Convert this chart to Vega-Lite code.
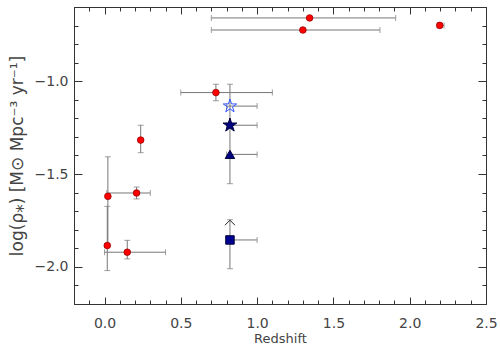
{
  "$schema": "https://vega.github.io/schema/vega-lite/v6.json",
  "autosize": "none",
  "width": 412,
  "height": 297,
  "padding": {"left": 74, "top": 7, "right": 14, "bottom": 47},
  "background": "white",
  "config": {
    "view": {"stroke": "#333", "strokeWidth": 1},
    "axis": {"domain": false, "grid": false, "ticks": true, "tickColor": "#333", "tickOpacity": 1, "tickWidth": 1, "labelFont": "DejaVu Sans", "labelFontSize": 14, "labelColor": "#444", "titleFont": "DejaVu Sans", "titleFontWeight": "normal", "titleFontSize": 13, "titleColor": "#444", "labelFlush": false, "labelOverlap": false}
  },
  "data": {"values": [
    {"kind": "red", "z": 1.344, "y": -0.659, "zlo": 0.70, "zhi": 1.908},
    {"kind": "red", "z": 1.30, "y": -0.724, "zlo": 0.70, "zhi": 1.805},
    {"kind": "red", "z": 2.197, "y": -0.699, "zlo": 2.18, "zhi": 2.225},
    {"kind": "red", "z": 0.73, "y": -1.061, "zlo": 0.50, "zhi": 1.10, "ylo": -1.105, "yhi": -1.016},
    {"kind": "red", "z": 0.237, "y": -1.317, "ylo": -1.385, "yhi": -1.237},
    {"kind": "red", "z": 0.022, "y": -1.62, "ylo": -1.885, "yhi": -1.407},
    {"kind": "red", "z": 0.21, "y": -1.602, "zlo": 0.015, "zhi": 0.30, "ylo": -1.634, "yhi": -1.57},
    {"kind": "red", "z": 0.018, "y": -1.885, "ylo": -2.02, "yhi": -1.674},
    {"kind": "red", "z": 0.149, "y": -1.921, "zlo": 0.0, "zhi": 0.40, "ylo": -1.957, "yhi": -1.857},
    {"kind": "openstar", "z": 0.822, "y": -1.134, "zlo": 0.80, "zhi": 1.0},
    {"kind": "star", "z": 0.822, "y": -1.237, "zlo": 0.80, "zhi": 1.0},
    {"kind": "triangle", "z": 0.822, "y": -1.394, "zlo": 0.80, "zhi": 1.0, "ylo": -1.552, "yhi": -1.016},
    {"kind": "square", "z": 0.822, "y": -1.855, "zlo": 0.80, "zhi": 1.0, "ylo": -2.01, "yhi": -1.746, "arrow": -1.762}
  ]},
  "resolve": {"axis": {"x": "independent", "y": "independent"}},
  "layer": [
    {
      "transform": [{"filter": "isValid(datum.zlo)"}],
      "mark": {"type": "errorbar", "ticks": {"size": 6, "color": "#777"}, "rule": {"color": "#777", "strokeWidth": 1}},
      "encoding": {
        "x": {"field": "zlo", "type": "quantitative", "scale": {"domain": [-0.2, 2.5], "nice": false, "zero": false},
          "axis": {"orient": "bottom", "title": "Redshift", "titlePadding": 2,
            "values": [0, 0.5, 1, 1.5, 2, 2.5], "format": ".1f", "offset": -7, "tickSize": 7, "labelPadding": 12}},
        "x2": {"field": "zhi"},
        "y": {"field": "y", "type": "quantitative", "scale": {"domain": [-2.2, -0.6], "nice": false, "zero": false},
          "axis": {"orient": "left", "title": "log(ρ⁎) [M⊙ Mpc⁻³ yr⁻¹]", "titleFontSize": 17, "titlePadding": 8,
            "values": [-2, -1.5, -1],
            "labelExpr": "replace(format(datum.value,'.1f'),'-','−')",
            "offset": -8, "tickSize": 8, "labelPadding": 6}}
      }
    },
    {
      "transform": [{"filter": "isValid(datum.ylo)"}],
      "mark": {"type": "errorbar", "ticks": {"size": 6, "color": "#777"}, "rule": {"color": "#777", "strokeWidth": 1}},
      "encoding": {
        "y": {"field": "ylo", "type": "quantitative",
          "axis": {"orient": "left", "title": null, "labels": false, "offset": -4, "tickSize": 4,
            "values": [-2.2,-2.1,-2,-1.9,-1.8,-1.7,-1.6,-1.5,-1.4,-1.3,-1.2,-1.1,-1,-0.9,-0.8,-0.7,-0.6]}},
        "y2": {"field": "yhi"},
        "x": {"field": "z", "type": "quantitative",
          "axis": {"orient": "bottom", "title": null, "labels": false, "offset": -4, "tickSize": 4,
            "values": [-0.2,-0.1,0,0.1,0.2,0.3,0.4,0.5,0.6,0.7,0.8,0.9,1,1.1,1.2,1.3,1.4,1.5,1.6,1.7,1.8,1.9,2,2.1,2.2,2.3,2.4,2.5]}}
      }
    },
    {
      "transform": [{"filter": "isValid(datum.arrow)"}],
      "mark": {"type": "point", "shape": "M-1,0.5L0,-0.5L1,0.5", "filled": false, "stroke": "#222", "strokeWidth": 1, "size": 100, "opacity": 1},
      "encoding": {
        "x": {"field": "z", "type": "quantitative",
          "axis": {"orient": "top", "title": null, "labels": false, "offset": -7, "tickSize": 7, "values": [0, 0.5, 1, 1.5, 2, 2.5]}},
        "y": {"field": "arrow", "type": "quantitative",
          "axis": {"orient": "right", "title": null, "labels": false, "offset": -8, "tickSize": 8, "values": [-2, -1.5, -1]}}
      }
    },
    {
      "transform": [{"filter": "datum.kind === 'red'"}],
      "mark": {"type": "point", "shape": "circle", "filled": true, "fill": "#ff0000", "stroke": "#990000", "strokeWidth": 0.8, "size": 44, "opacity": 1},
      "encoding": {
        "x": {"field": "z", "type": "quantitative",
          "axis": {"orient": "top", "title": null, "labels": false, "offset": -4, "tickSize": 4,
            "values": [-0.2,-0.1,0,0.1,0.2,0.3,0.4,0.5,0.6,0.7,0.8,0.9,1,1.1,1.2,1.3,1.4,1.5,1.6,1.7,1.8,1.9,2,2.1,2.2,2.3,2.4,2.5]}},
        "y": {"field": "y", "type": "quantitative",
          "axis": {"orient": "right", "title": null, "labels": false, "offset": -4, "tickSize": 4,
            "values": [-2.2,-2.1,-2,-1.9,-1.8,-1.7,-1.6,-1.5,-1.4,-1.3,-1.2,-1.1,-1,-0.9,-0.8,-0.7,-0.6]}}
      }
    },
    {
      "transform": [{"filter": "datum.kind === 'openstar'"}],
      "mark": {"type": "point", "shape": "M0,-1L0.2245,-0.309L0.951,-0.309L0.363,0.118L0.588,0.809L0,0.382L-0.588,0.809L-0.363,0.118L-0.951,-0.309L-0.2245,-0.309Z", "filled": false, "stroke": "#3355ff", "strokeWidth": 1, "size": 200, "opacity": 1},
      "encoding": {
        "x": {"field": "z", "type": "quantitative", "axis": null},
        "y": {"field": "y", "type": "quantitative", "axis": null}
      }
    },
    {
      "transform": [{"filter": "datum.kind === 'star'"}],
      "mark": {"type": "point", "shape": "M0,-1L0.2245,-0.309L0.951,-0.309L0.363,0.118L0.588,0.809L0,0.382L-0.588,0.809L-0.363,0.118L-0.951,-0.309L-0.2245,-0.309Z", "filled": true, "fill": "#000080", "stroke": "#000040", "strokeWidth": 1, "size": 210, "opacity": 1},
      "encoding": {
        "x": {"field": "z", "type": "quantitative", "axis": null},
        "y": {"field": "y", "type": "quantitative", "axis": null}
      }
    },
    {
      "transform": [{"filter": "datum.kind === 'triangle'"}],
      "mark": {"type": "point", "shape": "triangle-up", "filled": true, "fill": "#000080", "stroke": "#000040", "strokeWidth": 1, "size": 90, "opacity": 1},
      "encoding": {
        "x": {"field": "z", "type": "quantitative", "axis": null},
        "y": {"field": "y", "type": "quantitative", "axis": null}
      }
    },
    {
      "transform": [{"filter": "datum.kind === 'square'"}],
      "mark": {"type": "point", "shape": "square", "filled": true, "fill": "#000090", "stroke": "#000040", "strokeWidth": 1, "size": 72, "opacity": 1},
      "encoding": {
        "x": {"field": "z", "type": "quantitative", "axis": null},
        "y": {"field": "y", "type": "quantitative", "axis": null}
      }
    }
  ]
}
